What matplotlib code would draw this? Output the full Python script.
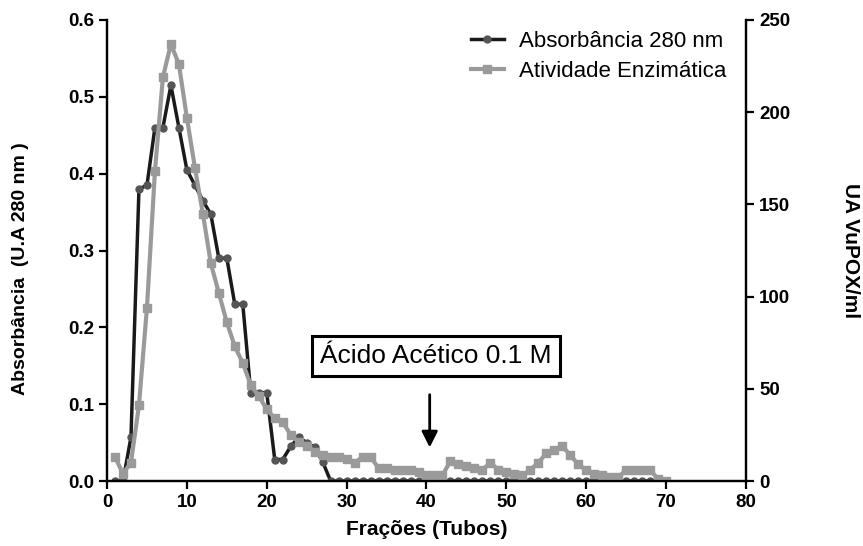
import matplotlib
matplotlib.use("Agg")
import matplotlib.pyplot as plt

plt.rcParams['font.family'] = ['Liberation Sans', 'DejaVu Sans']

# fractions (tubes) and readings
tubos_abs = list(range(1, 69))
absorbancia = [0, 0, 0.057, 0.38, 0.385, 0.46, 0.46, 0.515, 0.46, 0.405,
               0.385, 0.365, 0.347, 0.29, 0.29, 0.23, 0.23, 0.115, 0.115, 0.115,
               0.028, 0.028, 0.045, 0.057, 0.05, 0.044, 0.025] + [0] * 41

tubos_ativ = list(range(1, 71))
atividade = [13, 4, 10, 41, 94, 168, 219, 237, 226, 197,
             170, 145, 118, 102, 86, 73, 64, 52, 46, 39,
             34, 32, 25, 21, 19, 16, 14, 13, 13, 12,
             10, 13, 13, 7, 7, 6, 6, 6, 5, 3,
             3, 3, 11, 9, 8, 7, 6, 10, 6, 5,
             4, 3, 6, 10, 15, 17, 19, 14, 9, 6,
             4, 3, 2, 2, 6, 6, 6, 6, 1, 0]

fig = plt.figure(figsize=(8.63, 5.46), dpi=100)
ax = fig.add_axes([0.124, 0.119, 0.7404, 0.8444])
ax2 = ax.twinx()

l1, = ax.plot(tubos_abs, absorbancia, color='#1a1a1a', lw=2.5, marker='o',
              ms=5, mfc='#555555', mec='#555555', label='Absorbância 280 nm')
l2, = ax2.plot(tubos_ativ, atividade, color='#9a9a9a', lw=3, marker='s',
               ms=5.5, mfc='#9a9a9a', mec='#9a9a9a', label='Atividade Enzimática')

ax.set_xlim(0, 80)
ax.set_ylim(0, 0.6)
ax2.set_ylim(0, 250)
ax.set_xticks(range(0, 81, 10))
ax.set_yticks([0, 0.1, 0.2, 0.3, 0.4, 0.5, 0.6])
ax.set_yticklabels(['0.0', '0.1', '0.2', '0.3', '0.4', '0.5', '0.6'])
ax2.set_yticks(range(0, 251, 50))

for a in (ax, ax2):
    a.spines['top'].set_visible(False)
    for s in ('left', 'right', 'bottom'):
        a.spines[s].set_linewidth(1.6)
    a.tick_params(width=1.6, length=6, labelsize=13.5)
    for lab in a.get_xticklabels() + a.get_yticklabels():
        lab.set_fontweight('bold')

ax.set_xlabel('Frações (Tubos)', fontsize=15, fontweight='bold', va='center')
ax.xaxis.set_label_coords(0.5, -0.106)
ax.set_ylabel('Absorbância  (U.A 280 nm )', fontsize=14, fontweight='bold', va='center')
ax.yaxis.set_label_coords(-0.136, 0.46)
ax2.set_ylabel('UA VuPOX/ml', fontsize=15, fontweight='bold', rotation=-90, va='center')
ax2.yaxis.set_label_coords(1.164, 0.5)

ax.legend(handles=[l1, l2], loc='upper left', bbox_to_anchor=(0.555, 0.995),
          frameon=False, fontsize=16, handlelength=1.5, handletextpad=0.7,
          borderaxespad=0, labelspacing=0.4)

ax.text(41.2, 0.163, 'Ácido Acético 0.1 M', fontsize=19, ha='center', va='center',
        bbox=dict(boxstyle='square,pad=0.3', fc='white', ec='black', lw=2.2))
ax.annotate('', xy=(40.4, 0.040), xytext=(40.4, 0.116),
            arrowprops=dict(arrowstyle='-|>', color='black', lw=2,
                            mutation_scale=24))

fig.savefig('out.png', dpi=100)
